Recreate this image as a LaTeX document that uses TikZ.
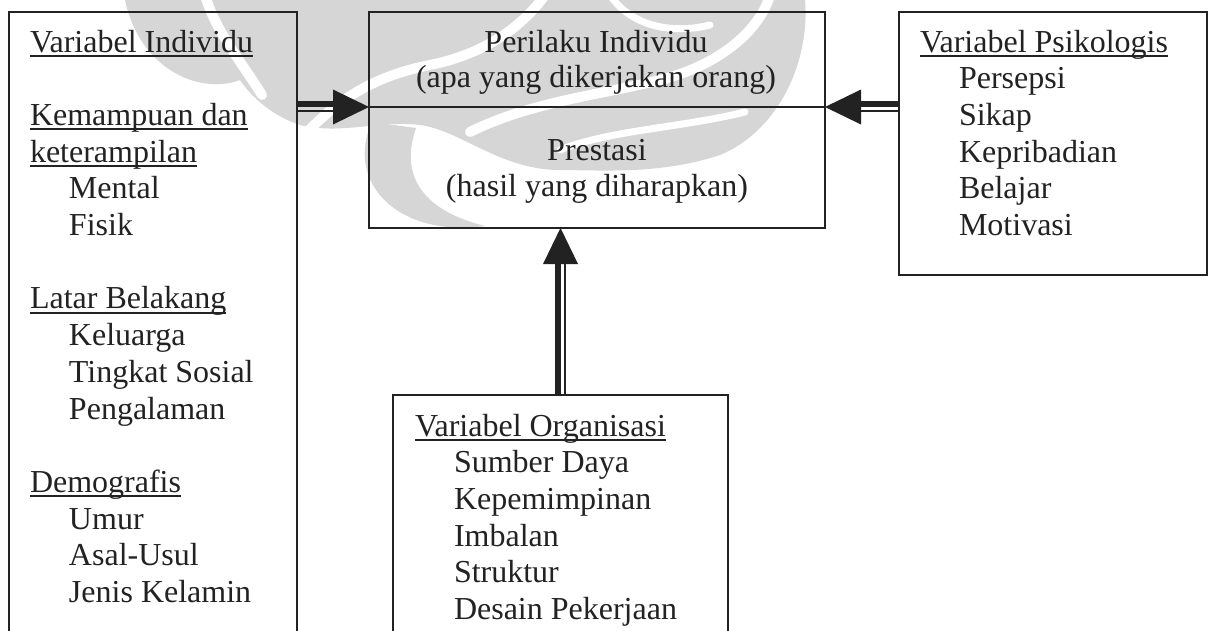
\documentclass[tikz,border=0pt]{standalone}
\usepackage{fontspec}
\setmainfont{Liberation Serif}
\usetikzlibrary{calc}
\definecolor{ink}{HTML}{222222}
\definecolor{emblem}{HTML}{D6D6D6}

% underline at a fixed distance below the baseline
\newcommand\undl[1]{\setbox0\hbox{#1}\rlap{\color{ink}\rule[-4.6pt]{\wd0}{2pt}}\box0}
% indentation of the sub-items
\newcommand\ind{\hspace*{39pt}}

% thick-thin double shaft with a solid triangular head
% #1 start, #2 tip, #3 side of the thick line, #4 side of the thin line
\newcommand\dblarrow[4]{%
  \coordinate (hb) at ($(#2)!36pt!(#1)$);
  \draw[shaftthick] ($(#1)!2.8pt!#3:(#2)$) -- ($(hb)!2.8pt!#3:(#2)$);
  \draw[shaftthin]  ($(#1)!4.2pt!#4:(#2)$) -- ($(hb)!4.2pt!#4:(#2)$);
  \fill[ink] (#2) -- ($(hb)!17.5pt!90:(#2)$) -- ($(hb)!17.5pt!-90:(#2)$) -- cycle;
}

\begin{document}
\begin{tikzpicture}[x=1pt,y=-1pt,
  box/.style={draw=ink, line width=2pt, rectangle, inner sep=0pt, outer sep=0pt, anchor=north west},
  txt/.style={inner sep=0pt, outer sep=0pt, text=ink, font=\fontsize{32}{36.7}\selectfont},
  shaftthick/.style={draw=ink, line width=6pt, line cap=butt},
  shaftthin/.style={draw=ink, line width=2.4pt, line cap=butt},
  cutline/.style={draw=white, line width=10pt, line cap=round}]
\useasboundingbox (0,0) rectangle (1209,630);
\fill[white] (0,0) rectangle (1209,630);
\clip (0,0) rectangle (1209,630);

% faint emblem in the background
\fill[emblem] (125,0) -- (805,0)
  .. controls (810,60) and (780,130) .. (720,155)
  .. controls (660,175) and (600,170) .. (560,170)
  .. controls (500,170) and (460,130) .. (420,125)
  .. controls (380,120) and (340,135) .. (300,125)
  .. controls (270,115) and (250,95) .. (240,80)
  .. controls (200,95) and (140,70) .. (125,0) -- cycle;
\fill[emblem] (372,122) .. controls (345,180) and (395,238) .. (485,226)
  .. controls (428,212) and (398,180) .. (416,128) -- cycle;
\draw[cutline] (205,-5) .. controls (215,30) and (240,60) .. (262,95);
\draw[cutline] (300,140) .. controls (340,95) and (380,75) .. (430,65)
  .. controls (480,55) and (520,30) .. (545,-5);
\draw[cutline] (470,132) .. controls (530,102) and (600,95) .. (660,80)
  .. controls (720,65) and (760,30) .. (770,-5);
\draw[cutline, line width=7pt] (610,-5) .. controls (630,25) and (670,35) .. (710,25);
\draw[cutline, line width=7pt] (560,150) .. controls (610,130) and (680,128) .. (745,112);

% boxes
\node[box, minimum width=288pt, minimum height=700pt] (indiv) at (9,12) {};
\node[box, minimum width=456pt, minimum height=95pt] (perilaku) at (369,12) {};
\node[box, minimum width=456pt, minimum height=121pt] (prestasi) at (369,107) {};
\node[box, minimum width=308pt, minimum height=263pt] (psiko) at (899,12) {};
\node[box, minimum width=335pt, minimum height=300pt] (organ) at (393,395) {};

% individual variables
\node[txt, anchor=base west] (tIndiv) at (30,52) {\begin{tabular}[t]{@{}l@{}}
\undl{Variabel Individu}\\
\\
\undl{Kemampuan dan}\\
\undl{keterampilan}\\
\ind Mental\\
\ind Fisik\\
\\
\undl{Latar Belakang}\\
\ind Keluarga\\
\ind Tingkat Sosial\\
\ind Pengalaman\\
\\
\undl{Demografis}\\
\ind Umur\\
\ind Asal-Usul\\
\ind Jenis Kelamin
\end{tabular}};

% behaviour and performance
\node[txt, anchor=base] (tPerilaku) at (596,52) {\begin{tabular}[t]{@{}c@{}}
Perilaku Individu\\[-1.5pt]
(apa yang dikerjakan orang)
\end{tabular}};
\node[txt, anchor=base] (tPrestasi) at (597,160) {\begin{tabular}[t]{@{}c@{}}
Prestasi\\
(hasil yang diharapkan)
\end{tabular}};

% psychological variables
\node[txt, anchor=base west] (tPsiko) at (920,52) {\begin{tabular}[t]{@{}l@{}}
\undl{Variabel Psikologis}\\
\ind Persepsi\\
\ind Sikap\\
\ind Kepribadian\\
\ind Belajar\\
\ind Motivasi
\end{tabular}};

% organisational variables
\node[txt, anchor=base west] (tOrgan) at (415,436) {\begin{tabular}[t]{@{}l@{}}
\undl{Variabel Organisasi}\\
\ind Sumber Daya\\
\ind Kepemimpinan\\
\ind Imbalan\\
\ind Struktur\\
\ind Desain Pekerjaan
\end{tabular}};

% connectors
\coordinate (aL) at (indiv.east |- perilaku.south west);
\dblarrow{aL}{perilaku.south west}{90}{-90}
\coordinate (aR) at (psiko.west |- perilaku.south east);
\dblarrow{aR}{perilaku.south east}{-90}{90}
\coordinate (aU) at (organ.north |- prestasi.south);
\dblarrow{organ.north}{aU}{90}{-90}
\end{tikzpicture}
\end{document}
